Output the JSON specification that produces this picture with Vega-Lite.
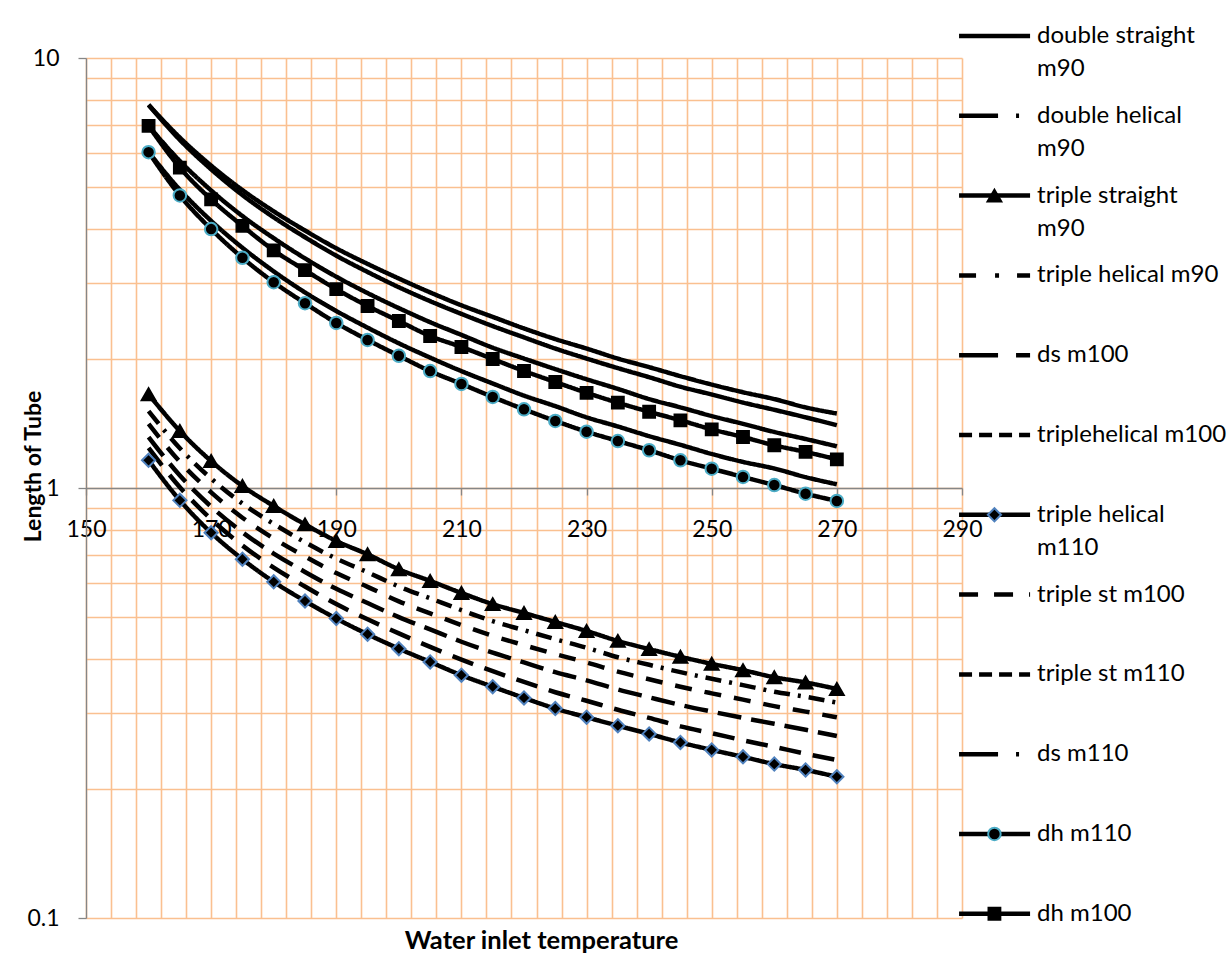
{
  "$schema": "https://vega.github.io/schema/vega-lite/v6.json",
  "padding": {"left": 22, "top": 23, "right": 0, "bottom": 0},
  "background": "white",
  "bounds": "flush",
  "spacing": 0,
  "config": {"font": "Lato", "view": {"stroke": null}},
  "datasets": {
    "curves": [
      {"T":160,"double straight m90":7.78,"double helical m90":7.78,"triple straight m90":1.652,"triple helical m90":1.51,"ds m100":6.95,"triplehelical m100":1.314,"triple helical m110":1.16,"triple st m100":1.409,"triple st m110":1.239,"ds m110":6.04,"dh m110":6.04,"dh m100":6.95},
      {"T":165,"double straight m90":6.53,"double helical m90":6.45,"triple straight m90":1.357,"triple helical m90":1.237,"ds m100":5.76,"triplehelical m100":1.069,"triple helical m110":0.936,"triple st m100":1.151,"triple st m110":1.004,"ds m110":4.94,"dh m110":4.79,"dh m100":5.56},
      {"T":170,"double straight m90":5.62,"double helical m90":5.51,"triple straight m90":1.155,"triple helical m90":1.052,"ds m100":4.92,"triplehelical m100":0.905,"triple helical m110":0.787,"triple st m100":0.977,"triple st m110":0.846,"ds m110":4.18,"dh m110":4.0,"dh m100":4.69},
      {"T":175,"double straight m90":4.93,"double helical m90":4.8,"triple straight m90":1.011,"triple helical m90":0.92,"ds m100":4.29,"triplehelical m100":0.789,"triple helical m110":0.683,"triple st m100":0.853,"triple st m110":0.735,"ds m110":3.62,"dh m110":3.43,"dh m100":4.07},
      {"T":180,"double straight m90":4.4,"double helical m90":4.26,"triple straight m90":0.908,"triple helical m90":0.825,"ds m100":3.81,"triplehelical m100":0.704,"triple helical m110":0.605,"triple st m100":0.763,"triple st m110":0.653,"ds m110":3.19,"dh m110":3.01,"dh m100":3.57},
      {"T":185,"double straight m90":3.97,"double helical m90":3.83,"triple straight m90":0.823,"triple helical m90":0.748,"ds m100":3.42,"triplehelical m100":0.638,"triple helical m110":0.546,"triple st m100":0.693,"triple st m110":0.59,"ds m110":2.85,"dh m110":2.69,"dh m100":3.21},
      {"T":190,"double straight m90":3.61,"double helical m90":3.47,"triple straight m90":0.753,"triple helical m90":0.685,"ds m100":3.1,"triplehelical m100":0.583,"triple helical m110":0.497,"triple st m100":0.634,"triple st m110":0.537,"ds m110":2.58,"dh m110":2.42,"dh m100":2.9},
      {"T":195,"double straight m90":3.32,"double helical m90":3.18,"triple straight m90":0.701,"triple helical m90":0.637,"ds m100":2.84,"triplehelical m100":0.54,"triple helical m110":0.457,"triple st m100":0.589,"triple st m110":0.495,"ds m110":2.36,"dh m110":2.21,"dh m100":2.65},
      {"T":200,"double straight m90":3.07,"double helical m90":2.93,"triple straight m90":0.647,"triple helical m90":0.59,"ds m100":2.62,"triplehelical m100":0.501,"triple helical m110":0.423,"triple st m100":0.545,"triple st m110":0.459,"ds m110":2.17,"dh m110":2.03,"dh m100":2.445},
      {"T":205,"double straight m90":2.85,"double helical m90":2.72,"triple straight m90":0.608,"triple helical m90":0.554,"ds m100":2.43,"triplehelical m100":0.469,"triple helical m110":0.394,"triple st m100":0.511,"triple st m110":0.427,"ds m110":2.01,"dh m110":1.87,"dh m100":2.257},
      {"T":210,"double straight m90":2.66,"double helical m90":2.54,"triple straight m90":0.57,"triple helical m90":0.52,"ds m100":2.27,"triplehelical m100":0.439,"triple helical m110":0.367,"triple st m100":0.48,"triple st m110":0.399,"ds m110":1.87,"dh m110":1.746,"dh m100":2.128},
      {"T":215,"double straight m90":2.5,"double helical m90":2.38,"triple straight m90":0.537,"triple helical m90":0.49,"ds m100":2.12,"triplehelical m100":0.414,"triple helical m110":0.345,"triple st m100":0.453,"triple st m110":0.375,"ds m110":1.75,"dh m110":1.628,"dh m100":1.995},
      {"T":220,"double straight m90":2.35,"double helical m90":2.24,"triple straight m90":0.512,"triple helical m90":0.467,"ds m100":2.0,"triplehelical m100":0.393,"triple helical m110":0.325,"triple st m100":0.431,"triple st m110":0.354,"ds m110":1.64,"dh m110":1.524,"dh m100":1.871},
      {"T":225,"double straight m90":2.22,"double helical m90":2.11,"triple straight m90":0.488,"triple helical m90":0.445,"ds m100":1.89,"triplehelical m100":0.373,"triple helical m110":0.307,"triple st m100":0.411,"triple st m110":0.335,"ds m110":1.55,"dh m110":1.432,"dh m100":1.764},
      {"T":230,"double straight m90":2.11,"double helical m90":2.0,"triple straight m90":0.465,"triple helical m90":0.425,"ds m100":1.79,"triplehelical m100":0.357,"triple helical m110":0.293,"triple st m100":0.393,"triple st m110":0.32,"ds m110":1.46,"dh m110":1.352,"dh m100":1.665},
      {"T":235,"double straight m90":2.0,"double helical m90":1.9,"triple straight m90":0.441,"triple helical m90":0.404,"ds m100":1.7,"triplehelical m100":0.34,"triple helical m110":0.28,"triple st m100":0.374,"triple st m110":0.305,"ds m110":1.39,"dh m110":1.286,"dh m100":1.579},
      {"T":240,"double straight m90":1.91,"double helical m90":1.81,"triple straight m90":0.422,"triple helical m90":0.388,"ds m100":1.61,"triplehelical m100":0.326,"triple helical m110":0.268,"triple st m100":0.359,"triple st m110":0.292,"ds m110":1.32,"dh m110":1.224,"dh m100":1.504},
      {"T":245,"double straight m90":1.82,"double helical m90":1.72,"triple straight m90":0.405,"triple helical m90":0.373,"ds m100":1.54,"triplehelical m100":0.313,"triple helical m110":0.256,"triple st m100":0.345,"triple st m110":0.279,"ds m110":1.26,"dh m110":1.16,"dh m100":1.437},
      {"T":250,"double straight m90":1.74,"double helical m90":1.65,"triple straight m90":0.39,"triple helical m90":0.36,"ds m100":1.47,"triplehelical m100":0.302,"triple helical m110":0.246,"triple st m100":0.333,"triple st m110":0.269,"ds m110":1.2,"dh m110":1.109,"dh m100":1.369},
      {"T":255,"double straight m90":1.67,"double helical m90":1.58,"triple straight m90":0.377,"triple helical m90":0.348,"ds m100":1.41,"triplehelical m100":0.292,"triple helical m110":0.237,"triple st m100":0.322,"triple st m110":0.259,"ds m110":1.15,"dh m110":1.061,"dh m100":1.314},
      {"T":260,"double straight m90":1.61,"double helical m90":1.52,"triple straight m90":0.363,"triple helical m90":0.336,"ds m100":1.35,"triplehelical m100":0.283,"triple helical m110":0.228,"triple st m100":0.311,"triple st m110":0.25,"ds m110":1.11,"dh m110":1.016,"dh m100":1.257},
      {"T":265,"double straight m90":1.54,"double helical m90":1.46,"triple straight m90":0.353,"triple helical m90":0.327,"ds m100":1.3,"triplehelical m100":0.274,"triple helical m110":0.221,"triple st m100":0.302,"triple st m110":0.241,"ds m110":1.06,"dh m110":0.97,"dh m100":1.213},
      {"T":270,"double straight m90":1.49,"double helical m90":1.4,"triple straight m90":0.341,"triple helical m90":0.317,"ds m100":1.25,"triplehelical m100":0.265,"triple helical m110":0.213,"triple st m100":0.293,"triple st m110":0.233,"ds m110":1.02,"dh m110":0.933,"dh m100":1.166}
    ],
    "legend": [
      {"series":"double straight m90","order":0,"label1":"double straight","label2":"m90"},
      {"series":"double helical m90","order":1,"label1":"double helical","label2":"m90"},
      {"series":"triple straight m90","order":2,"label1":"triple straight","label2":"m90"},
      {"series":"triple helical m90","order":3,"label1":"triple helical m90","label2":""},
      {"series":"ds m100","order":4,"label1":"ds m100","label2":""},
      {"series":"triplehelical m100","order":5,"label1":"triplehelical m100","label2":""},
      {"series":"triple helical m110","order":6,"label1":"triple helical","label2":"m110"},
      {"series":"triple st m100","order":7,"label1":"triple st m100","label2":""},
      {"series":"triple st m110","order":8,"label1":"triple st m110","label2":""},
      {"series":"ds m110","order":9,"label1":"ds m110","label2":""},
      {"series":"dh m110","order":10,"label1":"dh m110","label2":""},
      {"series":"dh m100","order":11,"label1":"dh m100","label2":""}
    ]
  },
  "resolve": {"scale": {"strokeDash": "independent"}},
  "hconcat": [
    {
      "width": 876,
      "height": 860,
      "data": {"name": "curves"},
      "transform": [
        {"fold": ["double straight m90","double helical m90","triple straight m90","triple helical m90","ds m100","triplehelical m100","triple helical m110","triple st m100","triple st m110","ds m110","dh m110","dh m100"], "as": ["series","L"]}
      ],
      "encoding": {
        "x": {
          "field": "T", "type": "quantitative",
          "scale": {"domain": [150, 290], "nice": false, "zero": false},
          "axis": {
            "values": [150,154,158,162,166,170,174,178,182,186,190,194,198,202,206,210,214,218,222,226,230,234,238,242,246,250,254,258,262,266,270,274,278,282,286,290],
            "labelExpr": "(datum.value - 150) % 20 == 0 ? datum.label : ''",
            "offset": -430,
            "grid": true, "gridColor": "#FAC090", "gridWidth": 1.6,
            "domainColor": "#868686", "domainWidth": 1.3,
            "tickColor": "#868686", "tickSize": 7, "tickWidth": 1.3,
            "tickOpacity": {"condition": {"test": "(datum.value - 150) % 20 == 0", "value": 1}, "value": 0},
            "labelFontSize": 23, "labelColor": "black", "labelPadding": 23,
            "labelFlush": false, "labelOverlap": false,
            "title": "Water inlet temperature", "titleFontSize": 25.5, "titleFontWeight": "bold", "titleColor": "black",
            "titleX": 455, "titleY": 440, "titleBaseline": "top", "titleAlign": "center"
          }
        },
        "y": {
          "field": "L", "type": "quantitative",
          "scale": {"type": "log", "domain": [0.1, 10], "nice": false},
          "axis": {
            "values": [0.1,0.2,0.3,0.4,0.5,0.6,0.7,0.8,0.9,1,2,3,4,5,6,7,8,9,10],
            "labelExpr": "datum.value == 0.1 ? '0.1' : datum.value == 1 ? '1' : datum.value == 10 ? '10' : ''",
            "grid": true, "gridColor": "#FAC090", "gridWidth": 1.6,
            "domainColor": "#868686", "domainWidth": 1.3,
            "tickColor": "#868686", "tickSize": 8, "tickWidth": 1.3,
            "tickOpacity": {"condition": {"test": "datum.value == 0.1 || datum.value == 1 || datum.value == 10", "value": 1}, "value": 0},
            "labelFontSize": 23, "labelColor": "black", "labelPadding": 19,
            "labelFlush": false, "labelOverlap": false,
            "title": "Length of Tube", "titleFontSize": 23, "titleFontWeight": "bold", "titleColor": "black",
            "titleAngle": -90, "titleX": -53, "titleY": 408, "titleBaseline": "middle", "titleAlign": "center"
          }
        }
      },
      "layer": [
        {
          "mark": {"type": "line", "color": "black", "strokeWidth": 4.5, "interpolate": "monotone", "strokeCap": "butt"},
          "encoding": {
            "strokeDash": {
              "field": "series", "type": "nominal", "legend": null,
              "scale": {
                "domain": ["double straight m90","double helical m90","triple straight m90","triple helical m90","ds m100","triplehelical m100","triple helical m110","triple st m100","triple st m110","ds m110","dh m110","dh m100"],
                "range": [[1,0],[1,0],[1,0],[16,8,3,8],[1,0],[24,10],[1,0],[17,13],[22,12],[1,0],[1,0],[1,0]]
              }
            }
          }
        },
        {
          "transform": [{"filter": {"field": "series", "oneOf": ["triple straight m90","triple helical m110","dh m110","dh m100"]}}],
          "mark": {"type": "point", "fill": "black", "opacity": 1, "fillOpacity": 1, "strokeWidth": 2},
          "encoding": {
            "shape": {"field": "series", "type": "nominal", "legend": null, "scale": {"domain": ["triple straight m90","triple helical m110","dh m110","dh m100"], "range": ["triangle-up","diamond","circle","square"]}},
            "stroke": {"field": "series", "type": "nominal", "legend": null, "scale": {"domain": ["triple straight m90","triple helical m110","dh m110","dh m100"], "range": ["black","#4F81BD","#4BACC6","black"]}},
            "size": {"field": "series", "type": "nominal", "legend": null, "scale": {"domain": ["triple straight m90","triple helical m110","dh m110","dh m100"], "range": [190,140,160,130]}}
          }
        }
      ]
    },
    {
      "width": 268,
      "height": 860,
      "data": {"name": "legend"},
      "encoding": {
        "y": {"field": "order", "type": "quantitative", "scale": {"domain": [0.2757, 11.053], "reverse": true, "nice": false, "zero": false}, "axis": null}
      },
      "layer": [
        {
          "mark": {"type": "rule", "color": "black", "strokeWidth": 4.5, "strokeCap": "butt"},
          "encoding": {
            "x": {"datum": -0.011, "type": "quantitative", "scale": {"domain": [0, 1], "nice": false, "zero": false}, "axis": null},
            "x2": {"datum": 0.254},
            "strokeDash": {
              "field": "series", "type": "nominal", "legend": null,
              "scale": {
                "domain": ["double straight m90","double helical m90","triple straight m90","triple helical m90","ds m100","triplehelical m100","triple helical m110","triple st m100","triple st m110","ds m110","dh m110","dh m100"],
                "range": [[1,0],[39,18,3,18],[1,0],[17,19,4,18],[39,18],[13,7],[1,0],[19,16],[13,7],[39,18,3,18],[1,0],[1,0]]
              }
            }
          }
        },
        {
          "transform": [{"filter": {"field": "series", "oneOf": ["triple straight m90","triple helical m110","dh m110","dh m100"]}}],
          "mark": {"type": "point", "fill": "black", "opacity": 1, "fillOpacity": 1, "strokeWidth": 2},
          "encoding": {
            "x": {"datum": 0.121, "type": "quantitative"},
            "shape": {"field": "series", "type": "nominal", "legend": null, "scale": {"domain": ["triple straight m90","triple helical m110","dh m110","dh m100"], "range": ["triangle-up","diamond","circle","square"]}},
            "stroke": {"field": "series", "type": "nominal", "legend": null, "scale": {"domain": ["triple straight m90","triple helical m110","dh m110","dh m100"], "range": ["black","#4F81BD","#4BACC6","black"]}},
            "size": {"field": "series", "type": "nominal", "legend": null, "scale": {"domain": ["triple straight m90","triple helical m110","dh m110","dh m100"], "range": [190,140,160,130]}}
          }
        },
        {
          "mark": {"type": "text", "align": "left", "baseline": "middle", "fontSize": 24, "color": "black"},
          "encoding": {"x": {"datum": 0.28, "type": "quantitative"}, "text": {"field": "label1", "type": "nominal"}}
        },
        {
          "mark": {"type": "text", "align": "left", "baseline": "middle", "fontSize": 24, "color": "black", "dy": 33},
          "encoding": {"x": {"datum": 0.28, "type": "quantitative"}, "text": {"field": "label2", "type": "nominal"}}
        }
      ]
    }
  ]
}
